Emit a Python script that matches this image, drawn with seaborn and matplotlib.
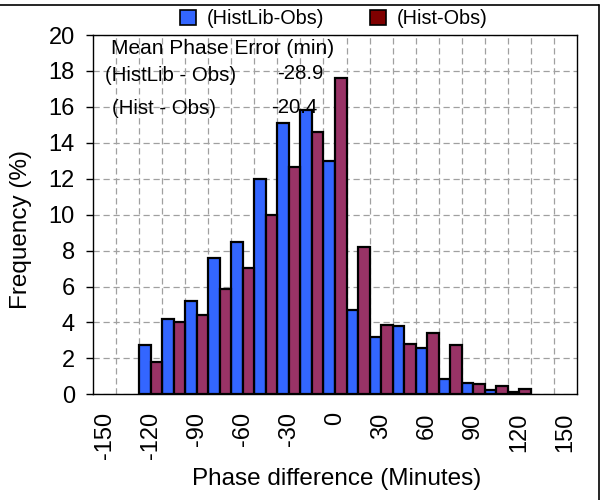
import numpy as np
import pandas as pd
import matplotlib.pyplot as plt
import seaborn as sns
from matplotlib.patches import Patch
from matplotlib.lines import Line2D
from matplotlib.ticker import FixedLocator

# phase difference bins (minutes)
bins = [-150, -135, -120, -105, -90, -75, -60, -45, -30, -15, 0,
        15, 30, 45, 60, 75, 90, 105, 120, 135, 150]
histlib_obs = [np.nan, np.nan, 2.75, 4.2, 5.2, 7.6, 8.45, 12.0, 15.1, 15.8, 13.0,
               4.7, 3.2, 3.8, 2.6, 0.87, 0.62, 0.25, 0.15, np.nan, np.nan]
hist_obs = [np.nan, np.nan, 1.8, 4.0, 4.4, 5.85, 7.05, 10.0, 12.65, 14.6, 17.6,
            8.2, 3.85, 2.8, 3.4, 2.75, 0.55, 0.45, 0.32, np.nan, np.nan]
series_names = ["(HistLib-Obs)", "(Hist-Obs)"]
tick_labels = ["-150", "-120", "-90", "-60", "-30", "0", "30", "60", "90", "120", "150"]
mean_error = {"(HistLib - Obs)": "-28.9", "(Hist - Obs)": "-20.4"}

bin_labels = [str(b) for b in bins]
df = pd.DataFrame({
    "bin": bin_labels * 2,
    "freq": histlib_obs + hist_obs,
    "series": [series_names[0]] * len(bins) + [series_names[1]] * len(bins),
}).dropna()

sns.set_style("white")
plt.rcParams['font.family'] = ['Liberation Sans', 'DejaVu Sans']
for k in ["text.color", "axes.labelcolor", "xtick.color", "ytick.color"]:
    plt.rcParams[k] = "black"

fig = plt.figure(figsize=(6.02, 5.0), dpi=100)
ax = fig.add_axes([93 / 602, 1 - 394.3 / 500, 484 / 602, 359.3 / 500])

colors = {"(HistLib-Obs)": "#3366FF", "(Hist-Obs)": "#993366"}
sns.barplot(data=df, x="bin", y="freq", hue="series", order=bin_labels,
            hue_order=series_names, palette=colors, saturation=1, width=1.0, gap=0,
            edgecolor="black", linewidth=1.6, legend=False, ax=ax, zorder=3)

ax.set_xlim(-0.5, len(bins) - 0.5)
ax.set_ylim(0, 20)
ax.set_yticks(range(0, 21, 2))
ax.set_xticks(range(0, len(bins), 2))
ax.set_xticklabels(tick_labels, rotation=90, va="top")
ax.xaxis.set_minor_locator(FixedLocator(np.arange(0.5, len(bins) - 1, 1.0)))

ax.grid(False)
grid_kw = dict(color="#a0a0a0", linestyle=(0, (5, 3)), linewidth=0.9)
ax.yaxis.grid(True, which="major", **grid_kw)
ax.xaxis.grid(True, which="minor", **grid_kw)
ax.set_axisbelow(True)

ax.tick_params(axis="x", which="both", length=0, pad=13, labelsize=17)
ax.tick_params(axis="y", which="major", length=5, width=1, direction="out",
               left=True, pad=8, labelsize=17, color="black")
for s in ax.spines.values():
    s.set_visible(True)
    s.set_color("black")
    s.set_linewidth(1.0)

ax.set_xlabel("Phase difference (Minutes)", fontsize=17.5)
ax.set_ylabel("Frequency (%)", fontsize=17.5)
ax.xaxis.set_label_coords(0.503, -0.205)
ax.yaxis.set_label_coords(-0.126, 0.46)

# mean phase error annotation
ax.text(0.0366, 0.963, "Mean Phase Error (min)", transform=ax.transAxes,
        fontsize=15, va="center", ha="left", zorder=5)
rows_y = [0.888, 0.795]
val_x = [0.3795, 0.369]
lab_x = [0.0248, 0.0386]
for (lab, val), yy, vx, lx in zip(mean_error.items(), rows_y, val_x, lab_x):
    ax.text(lx, yy, lab, transform=ax.transAxes, fontsize=14.7, va="center", ha="left", zorder=5)
    ax.text(vx, yy + 0.004, val, transform=ax.transAxes, fontsize=14.7, va="center", ha="left", zorder=5)

handles = [Patch(facecolor="#3366FF", edgecolor="black", linewidth=1.2),
           Patch(facecolor="#800000", edgecolor="black", linewidth=1.2)]
fig.legend(handles, series_names, loc="center", bbox_to_anchor=(0.555, 0.962),
           ncol=2, frameon=False, fontsize=14.3, handlelength=0.8, handleheight=0.8,
           handletextpad=0.55, columnspacing=2.3)

# chart border (top and right edges visible)
fig.add_artist(Line2D([0, 599 / 602], [1 - 5 / 500, 1 - 5 / 500], color="black",
                      linewidth=1.2, transform=fig.transFigure))
fig.add_artist(Line2D([599 / 602, 599 / 602], [0, 1 - 5 / 500], color="black",
                      linewidth=1.2, transform=fig.transFigure))

fig.savefig("out.png", dpi=100)
